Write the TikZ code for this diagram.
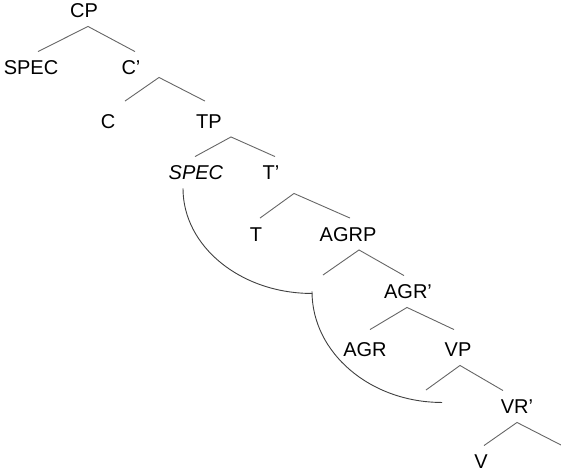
\documentclass[tikz,border=0pt]{standalone}
\usepackage{fontspec}
\setmainfont{Liberation Sans}
\usetikzlibrary{positioning}
\tikzset{node distance=2cm,
    cat/.style={
        font=\fontsize{20}{23}\selectfont,
        text height=14.3pt,
        text depth=0pt,
        inner xsep=1pt,
        inner ysep=8.6pt},
    branch/.style={
        draw=black!60,
        line width=0.9pt},
    move/.style={
        draw=black!75,
        line width=0.9pt}}

\begin{document}
\begin{tikzpicture}[x=1pt,y=1pt,on grid]
        \useasboundingbox (0,0) rectangle (561,-475);
        \node[cat] (1) at (84,-10.5) {CP};
        \node[cat,below left=57pt and 53pt of 1] (2) {SPEC};
        \node[cat,below right=57pt and 47pt of 1] (3) {C’};
        \node[cat,below left=53.5pt and 23pt of 3] (4) {C};
        \node[cat,below right=53.5pt and 78pt of 3] (5) {TP};
        \node[cat,below left=51.5pt and 13pt of 5] (6) {\textit{SPEC}};
        \node[cat,below right=51.5pt and 62pt of 5] (7) {T’};
        \node[cat,below left=61.5pt and 15pt of 7] (8) {T};
        \node[cat,below right=61.5pt and 77pt of 7] (9) {AGRP};
        \node[cat,below right=57.5pt and 60pt of 9] (10) {AGR’};
        \node[cat,below left=58pt and 43pt of 10] (11) {AGR};
        \node[cat,below right=58pt and 50pt of 10] (12) {VP};
        \node[cat,below right=57pt and 59pt of 12] (13) {VR’};
        \node[cat,below left=55pt and 36pt of 13] (14) {V};
        \coordinate (e1) at (323,-275);
        \coordinate (e2) at (426,-390);
        \coordinate (e3) at (561,-445);

        \draw[branch] ([xshift=7pt]2.north) -- ([xshift=4pt]1.south) -- ([xshift=4pt]3.north);
        \draw[branch] ([xshift=17pt,yshift=4pt]4.north) -- ([xshift=28pt,yshift=6pt]3.south) -- ([xshift=-4pt,yshift=4pt]5.north);
        \draw[branch] ([xshift=-1pt]6.north) -- ([xshift=22pt]5.south) -- ([xshift=4pt]7.north);
        \draw[branch] ([xshift=4pt]8.north) -- ([xshift=23pt,yshift=-5pt]7.south) -- ([xshift=2pt]9.north);
        \draw[branch] (e1) -- ([xshift=11pt]9.south) -- ([xshift=-4pt]10.north);
        \draw[branch] ([xshift=5pt,yshift=4pt]11.north) -- ([xshift=-1pt]10.south) -- ([xshift=-4pt,yshift=4pt]12.north);
        \draw[branch] (e2) -- ([xshift=2pt]12.south) -- ([xshift=-14pt]13.north);
        \draw[branch] ([xshift=3pt]14.north) -- (13.south) -- (e3);

        \draw[move] ([xshift=-13pt]6.south) arc[start angle=180,end angle=270,x radius=129,y radius=105] coordinate (m1);
        \draw[move] ([yshift=2pt]m1) arc[start angle=180,end angle=270,x radius=130,y radius=111];
    \end{tikzpicture}
\end{document}
